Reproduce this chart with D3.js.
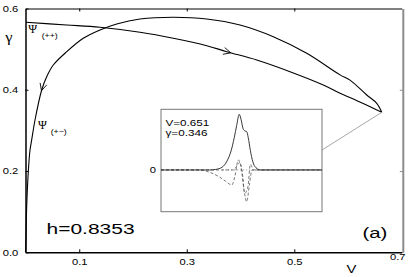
<!DOCTYPE html>
<html>
<head>
<meta charset="utf-8">
<script src="https://cdn.jsdelivr.net/npm/d3@7"></script>
<style>
  body { margin: 0; background: #fff; }
  svg { display: block; }
  text { font-family: "Liberation Sans", Arial, sans-serif; fill: #000; }
  .greek { font-family: "Liberation Serif", "DejaVu Serif", serif; }
</style>
</head>
<body>
<div id="chart"></div>
<script>
(function () {
    'use strict';

    // psi(++) branch (V, gamma)
    var plusV = [0.0009, 0.0767, 0.1386, 0.213, 0.275, 0.3371, 0.3743, 0.4301, 0.4921, 0.554, 0.5851, 0.6099, 0.6627];
    var plusG = [0.566, 0.5594, 0.5537, 0.5414, 0.5267, 0.5085, 0.4937, 0.4733, 0.4445, 0.4117, 0.3913, 0.3773, 0.3445];

    // psi(+-) branch, from the origin up and over to the turning point
    var mixV = [0, 0.0009, 0.0022, 0.0052, 0.0084, 0.0115, 0.0177, 0.0301, 0.0394, 0.0517, 0.0767, 0.1075, 0.1386, 0.1697, 0.213, 0.275, 0.3371, 0.399, 0.461, 0.5232, 0.5851, 0.6037, 0.6348, 0.6534, 0.6627];
    var mixG = [0, 0.0384, 0.1122, 0.1984, 0.2518, 0.2765, 0.3256, 0.3994, 0.4322, 0.461, 0.4937, 0.5267, 0.5472, 0.5619, 0.574, 0.5783, 0.5742, 0.5594, 0.5306, 0.4898, 0.4367, 0.4238, 0.3871, 0.3667, 0.3445];

    var xTicks = [0.1, 0.3, 0.5, 0.7];
    var yTicks = [0, 0.2, 0.4, 0.6];

    // inset profile at V=0.651, gamma=0.346 (position across box, amplitude)
    var absU = [0, 0.30, 0.34, 0.38, 0.41, 0.435, 0.455, 0.47, 0.486, 0.498, 0.51, 0.522, 0.532, 0.542, 0.555, 0.57, 0.59, 0.62, 1];
    var absA = [0, 0, 0.01, 0.05, 0.16, 0.34, 0.58, 0.8, 1.0, 0.9, 0.74, 0.7, 0.69, 0.58, 0.35, 0.15, 0.04, 0, 0];
    var reU = [0, 0.24, 0.30, 0.36, 0.40, 0.44, 0.46, 0.48, 0.50, 0.515, 0.532, 0.55, 0.565, 1];
    var reA = [0, 0, -0.04, -0.12, -0.2, -0.27, -0.1, 0.18, 0.0, -0.35, -0.57, -0.25, 0, 0];
    var imU = [0, 0.45, 0.49, 0.505, 0.52, 0.54, 0.555, 0.575, 1];
    var imA = [0, 0, 0.14, -0.05, -0.42, -0.3, 0.1, 0, 0];
    var endV = 0.6627, endG = 0.3445;

    var width = 415, height = 277;
    var stretch = 1.3;

    var svg = d3.select('#chart').append('svg')
        .attr('width', width)
        .attr('height', height);

    var x = d3.scaleLinear().domain([0, 0.7]).range([25.5, 401.8]);
    var y = d3.scaleLinear().domain([0, 0.6]).range([252.3, 8.5]);

    function zip(a, b) {
        return a.map(function (v, i) { return [v, b[i]]; });
    }

    function label(txt, px, py, size, sx, anchor, cls) {
        return svg.append('g')
            .attr('transform', 'translate(' + px + ',' + py + ')')
            .append('text')
            .attr('class', cls || null)
            .attr('x', 0)
            .attr('y', 0)
            .attr('transform', 'scale(' + sx + ',1)')
            .attr('text-anchor', anchor || 'start')
            .style('font-size', size + 'px')
            .text(txt);
    }

    // frame and axes
    svg.append('g')
        .attr('transform', 'translate(0,' + y(0.6) + ')')
        .call(d3.axisTop(x).tickValues([0.1, 0.3, 0.5]).tickSize(-3).tickSizeOuter(0).tickFormat(''))
        .call(function (g) {
            g.select('.domain').attr('stroke-width', 1);
        });

    svg.append('g')
        .attr('transform', 'translate(' + (x(0.7) + 1) + ',0)')
        .call(d3.axisRight(y).tickValues([0.2, 0.4]).tickSize(-3).tickSizeOuter(0).tickFormat(''))
        .call(function (g) {
            g.select('.domain').attr('stroke', '#8c8c8c').attr('stroke-width', 2);
            g.selectAll('.tick line').attr('stroke', '#8c8c8c');
        });

    svg.append('g')
        .attr('transform', 'translate(' + x(0) + ',0)')
        .call(d3.axisLeft(y).tickValues(yTicks).tickSize(-3).tickSizeOuter(0)
            .tickPadding(5.6).tickFormat(d3.format('.1f')))
        .call(function (g) {
            g.select('.domain').attr('stroke-width', 1.5);
            g.selectAll('text').attr('transform', 'scale(' + stretch + ',1)')
                .style('font-size', '8.6px').style('font-family', '"Liberation Sans", Arial, sans-serif');
        });

    svg.append('g')
        .attr('transform', 'translate(0,' + y(0) + ')')
        .call(d3.axisBottom(x).tickValues(xTicks).tickSize(-3).tickSizeOuter(0)
            .tickPadding(6.5).tickFormat(d3.format('.1f')))
        .call(function (g) {
            g.select('.domain').attr('stroke-width', 1.5);
            g.selectAll('text').attr('transform', 'scale(' + stretch + ',1)')
                .style('font-size', '8.6px').style('font-family', '"Liberation Sans", Arial, sans-serif');
            g.selectAll('.tick').filter(function (d) { return d === 0.7; })
                .select('text').attr('x', -3.5).attr('y', 1.7);
            g.selectAll('.tick').filter(function (d) { return d === 0.7; })
                .select('line').remove();
        });

    // curves
    var line = d3.line()
        .x(function (d) { return x(d[0]); })
        .y(function (d) { return y(d[1]); })
        .curve(d3.curveCatmullRom.alpha(0.5));

    var plusPath = svg.append('path')
        .attr('d', line(zip(plusV, plusG)))
        .attr('fill', 'none')
        .attr('stroke', '#000')
        .attr('stroke-width', 1.1);

    var mixPath = svg.append('path')
        .attr('d', line(zip(mixV, mixG)))
        .attr('fill', 'none')
        .attr('stroke', '#000')
        .attr('stroke-width', 1.1);

    // open arrowhead on a path where its x reaches the target V
    function arrow(pathSel, v, reverse) {
        var node = pathSel.node();
        var total = node.getTotalLength();
        var tx = x(v);
        var lo = 0, hi = total;
        for (var i = 0; i < 40; i++) {
            var mid = (lo + hi) / 2;
            if (node.getPointAtLength(mid).x < tx) lo = mid; else hi = mid;
        }
        var p = node.getPointAtLength(lo);
        var a = node.getPointAtLength(Math.max(0, lo - 2));
        var b = node.getPointAtLength(Math.min(total, lo + 2));
        var ang = Math.atan2(b.y - a.y, b.x - a.x);
        if (reverse) ang += Math.PI;
        var len = 8, spread = 0.45;
        var pts = [
            [p.x - len * Math.cos(ang - spread), p.y - len * Math.sin(ang - spread)],
            [p.x, p.y],
            [p.x - len * Math.cos(ang + spread), p.y - len * Math.sin(ang + spread)]
        ];
        svg.append('path')
            .attr('d', d3.line()(pts))
            .attr('fill', 'none')
            .attr('stroke', '#000')
            .attr('stroke-width', 0.9);
    }

    arrow(plusPath, 0.3818, false);
    arrow(mixPath, 0.0297, true);

    // inset
    var box = { left: 161, top: 109.3, w: 161, h: 102.4 };

    svg.append('line')
        .attr('x1', box.left + box.w).attr('y1', 150)
        .attr('x2', x(endV)).attr('y2', y(endG))
        .attr('stroke', '#a8a8a8')
        .attr('stroke-width', 1);

    var inset = svg.append('g')
        .attr('transform', 'translate(' + box.left + ',' + box.top + ')');

    var ix = d3.scaleLinear().domain([0, 1]).range([0, box.w]);
    var iy = d3.scaleLinear().domain([-0.75, 1.09]).range([box.h, 0]);

    inset.append('rect')
        .attr('width', box.w).attr('height', box.h)
        .attr('fill', '#fff')
        .attr('stroke', '#777')
        .attr('stroke-width', 1);

    var iline = d3.line()
        .x(function (d) { return ix(d[0]); })
        .y(function (d) { return iy(d[1]); })
        .curve(d3.curveMonotoneX);

    inset.append('line')
        .attr('x1', ix(0.38)).attr('x2', ix(0.62))
        .attr('y1', iy(0)).attr('y2', iy(0))
        .attr('stroke', '#888')
        .attr('stroke-width', 0.9)
        .attr('stroke-dasharray', '1,2');

    inset.append('path')
        .attr('d', iline(zip(reU, reA)))
        .attr('fill', 'none')
        .attr('stroke', '#555')
        .attr('stroke-width', 0.8)
        .attr('stroke-dasharray', '3,2');

    inset.append('path')
        .attr('d', iline(zip(imU, imA)))
        .attr('fill', 'none')
        .attr('stroke', '#555')
        .attr('stroke-width', 0.8)
        .attr('stroke-dasharray', '3,2');

    inset.append('path')
        .attr('d', iline(zip(absU, absA)))
        .attr('fill', 'none')
        .attr('stroke', '#222')
        .attr('stroke-width', 0.9);

    label('V=0.651', box.left + 4.5, 126, 9, 1.3);
    label('\u03b3=0.346', box.left + 4.5, 135.7, 9, 1.3);
    label('0', box.left - 5, box.top + iy(0) + 3, 8.6, 1.3, 'end');

    // annotations
    label('\u03b3', 9, 42, 15, 1.1, 'middle', 'greek');
    label('\u03a8', 28.3, 33.3, 12, 1.0, 'start', 'greek');
    label('(++)', 41.7, 38, 7, 1.25);
    label('\u03a8', 38, 129, 12, 1.0, 'start', 'greek');
    label('(+\u2212)', 50.7, 134, 7, 1.25);
    label('h=0.8353', 46.5, 234, 15, 1.4);
    label('(a)', 362.5, 238, 15, 1.36);
    label('V', 346.5, 272.5, 11, 1.35);
}());
</script>
</body>
</html>
